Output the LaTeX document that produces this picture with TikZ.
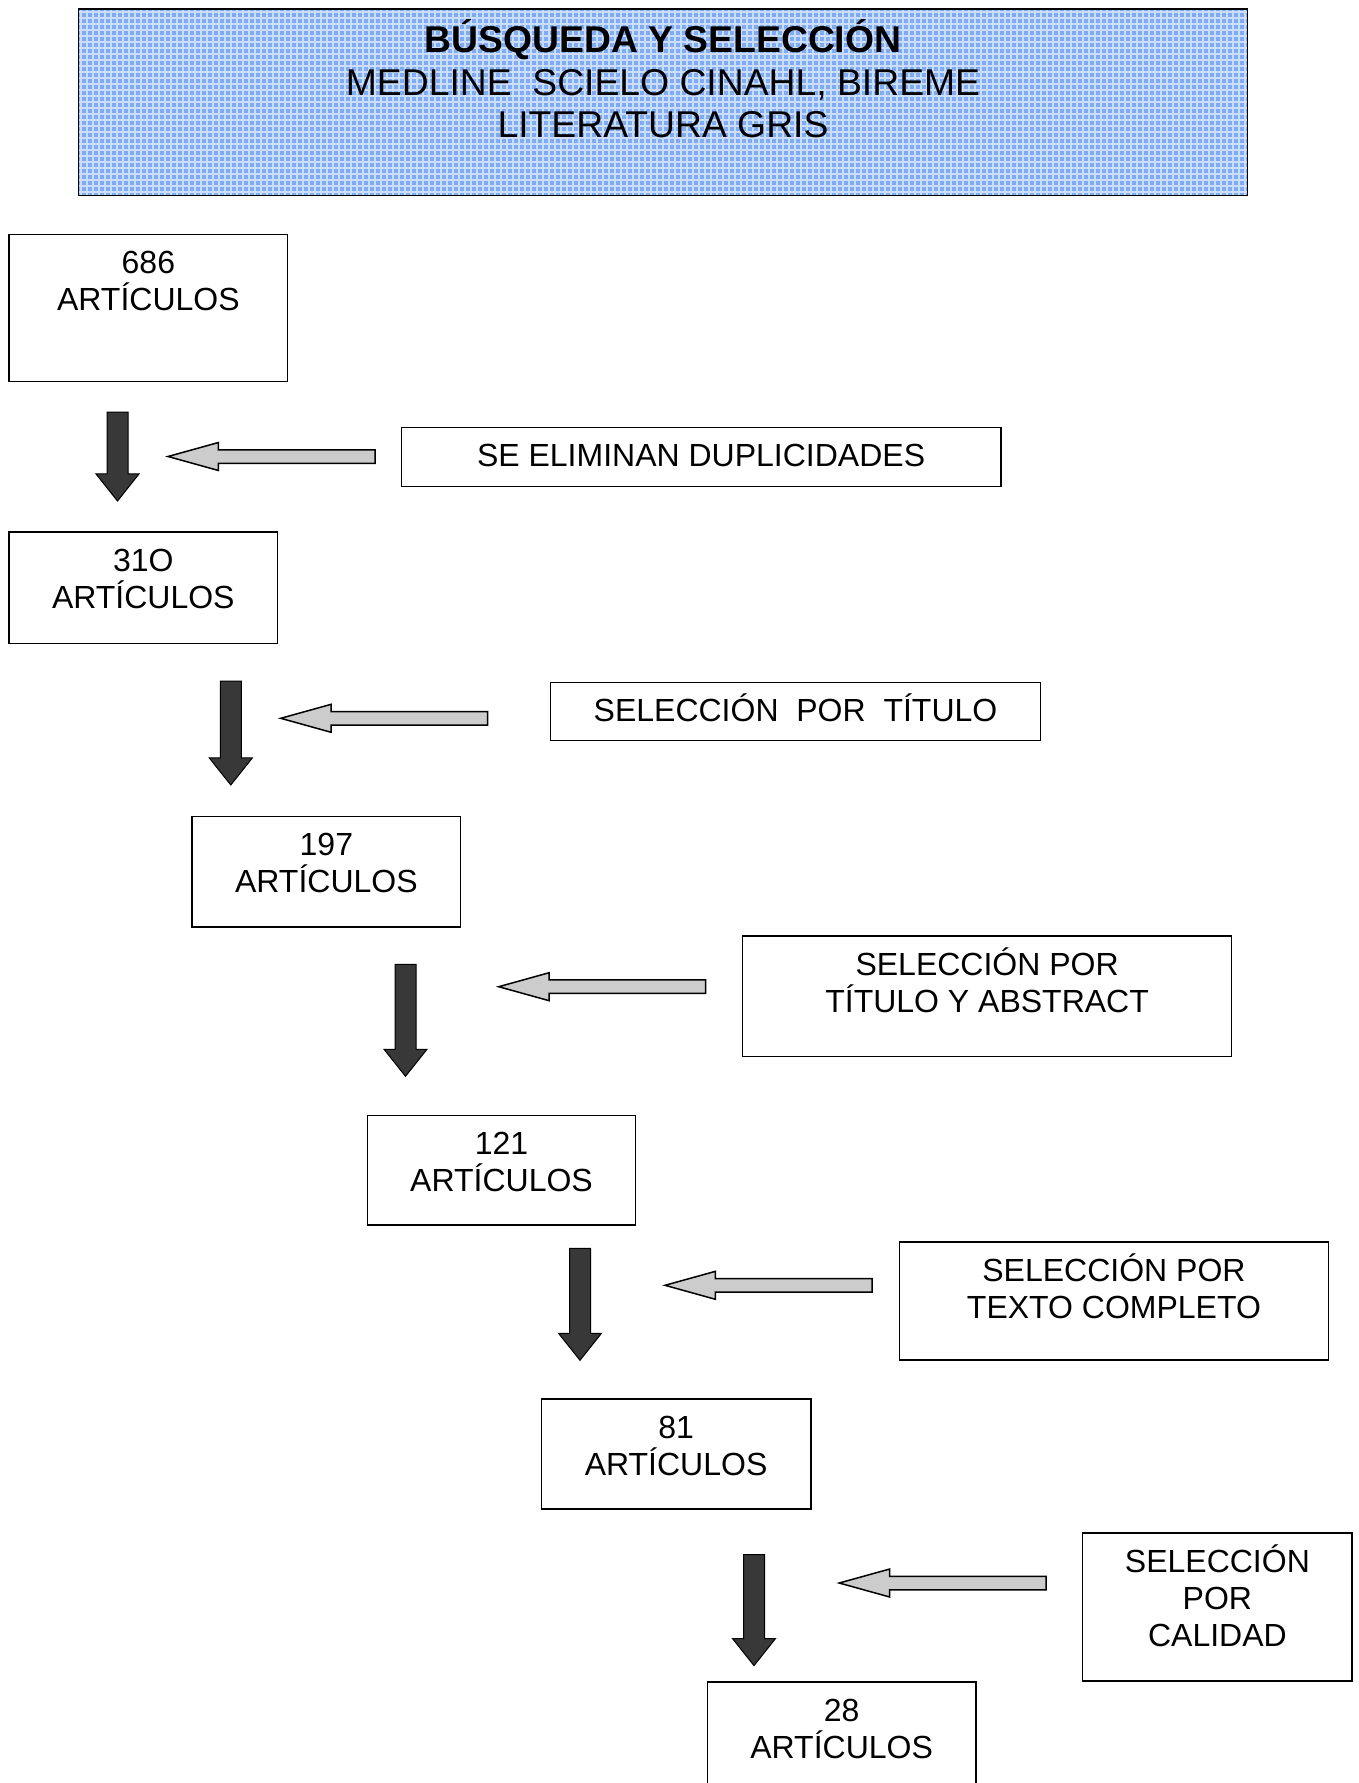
\documentclass[tikz,border=0pt]{standalone}
\usepackage{fontspec}
\setmainfont{Liberation Sans}
\usetikzlibrary{shapes.arrows}
\definecolor{headblue}{RGB}{125,172,245}
\newcommand{\boxtext}{\fontsize{32}{37}\selectfont\lineskiplimit=-50pt}
\newcommand{\headtext}{\fontsize{37.3}{42.5}\selectfont\lineskiplimit=-50pt}
\newcommand{\capstrut}[1]{\rule{0pt}{#1}}

\begin{document}
\begin{tikzpicture}[x=1pt, y=-1pt,
  frame/.style={draw, line width=1.5pt, inner sep=0pt, outer sep=0pt, anchor=north west},
  txt/.style={anchor=north, inner sep=0pt, align=center, font=\boxtext},
  downarrow/.style={single arrow, shape border rotate=270, anchor=tail, draw=black, line width=1pt,
    fill=black!78, inner sep=10pt, outer sep=0pt, single arrow head extend=11pt, single arrow tip angle=77},
  leftarrow/.style={single arrow, shape border rotate=180, anchor=tail, draw=black, line width=1.5pt,
    fill=black!20, inner sep=6pt, outer sep=0pt, single arrow head extend=7.2pt, single arrow tip angle=31,
    minimum height=207}]

\useasboundingbox (0,0) rectangle (1359,1783);
\clip (0,0) rectangle (1359,1783);

% Header: blue checked box
\node[frame, line width=1.6pt, fill=headblue, minimum width=1169, minimum height=186.5,
  path picture={\draw[white, opacity=.6, line width=2pt, step=6pt]
    (path picture bounding box.south west) grid (path picture bounding box.north east);}] (head) at (78.5,9.1) {};
\node[anchor=north, inner sep=0pt, align=center, font=\headtext] (headtxt) at ([yshift=-7.2pt]head.north)
  {\capstrut{36pt}\textbf{BÚSQUEDA Y SELECCIÓN}\\MEDLINE\ \ SCIELO CINAHL, BIREME\\LITERATURA GRIS};

% Article counts
\node[frame, minimum width=278.6, minimum height=147] (b686) at (9.1,234.3) {};
\node[txt] (t686) at ([yshift=-7pt]b686.north) {\capstrut{32pt}686\\ARTÍCULOS};

\node[frame, minimum width=268.4, minimum height=111.5] (b310) at (9.1,532.2) {};
\node[txt] (t310) at ([yshift=-7pt]b310.north) {\capstrut{32pt}31O\\ARTÍCULOS};

\node[frame, minimum width=268.4, minimum height=110.4] (b197) at (192.2,816.5) {};
\node[txt] (t197) at ([yshift=-7pt]b197.north) {\capstrut{32pt}197\\ARTÍCULOS};

\node[frame, minimum width=268.4, minimum height=109.2] (b121) at (367.3,1115.6) {};
\node[txt] (t121) at ([yshift=-7pt]b121.north) {\capstrut{32pt}121\\ARTÍCULOS};

\node[frame, minimum width=269.6, minimum height=110.3] (b81) at (541.3,1398.8) {};
\node[txt] (t81) at ([yshift=-7pt]b81.north) {\capstrut{32pt}81\\ARTÍCULOS};

\node[frame, minimum width=268.4, minimum height=130] (b28) at (707.4,1682) {};
\node[txt] (t28) at ([yshift=-7pt]b28.north) {\capstrut{32pt}28\\ARTÍCULOS};

% Selection steps
\node[frame, minimum width=599.4, minimum height=59.1] (bdup) at (401.4,427.6) {};
\node[txt] (tdup) at ([yshift=-7pt]bdup.north) {\capstrut{32pt}SE ELIMINAN DUPLICIDADES};

\node[frame, minimum width=490.2, minimum height=58] (btit) at (550.4,682.3) {};
\node[txt] (ttit) at ([yshift=-7pt]btit.north) {\capstrut{32pt}SELECCIÓN\ \ POR\ \ TÍTULO};

\node[frame, minimum width=489, minimum height=120.6] (babs) at (742.6,935.9) {};
\node[txt] (tabs) at ([yshift=-7pt]babs.north) {\capstrut{32pt}SELECCIÓN POR\\TÍTULO Y ABSTRACT};

\node[frame, minimum width=428.7, minimum height=118.2] (btxt) at (899.6,1241.9) {};
\node[txt] (ttxt) at ([yshift=-7pt]btxt.north) {\capstrut{32pt}SELECCIÓN POR\\TEXTO COMPLETO};

\node[frame, minimum width=269.6, minimum height=147.8] (bcal) at (1082.6,1533) {};
\node[txt] (tcal) at ([yshift=-7pt]bcal.north) {\capstrut{32pt}SELECCIÓN\\POR\\CALIDAD};

% Dark arrows going down
\foreach \x/\y/\l [count=\i] in {117.5/412/89, 230.8/681/104, 405.5/964.3/112, 580/1248.3/112, 754/1554.6/111}
  \node[downarrow, minimum height=\l] (down\i) at (\x,\y) {};

% Grey arrows pointing left
\foreach \x/\y [count=\i] in {375/456.5, 487.7/718.3, 705.7/986.7, 872/1285.3, 1046.2/1583}
  \node[leftarrow] (left\i) at (\x,\y) {};

\end{tikzpicture}
\end{document}
